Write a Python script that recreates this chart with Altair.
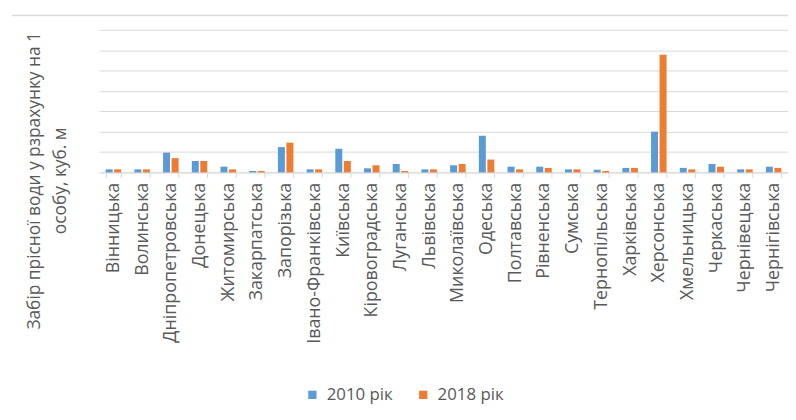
import altair as alt
import pandas as pd

regions = ["Вінницька", "Волинська", "Дніпропетровська", "Донецька", "Житомирська",
           "Закарпатська", "Запорізька", "Івано-Франківська", "Київська", "Кіровоградська",
           "Луганська", "Львівська", "Миколаївська", "Одеська", "Полтавська", "Рівненська",
           "Сумська", "Тернопільська", "Харківська", "Херсонська", "Хмельницька",
           "Черкаська", "Чернівецька", "Чернігівська"]
v2010 = [15, 15, 97, 56, 28, 7, 124, 15, 116, 20, 41, 15, 35, 180, 28, 28, 15, 13, 22, 200, 22, 41, 15, 28]
v2018 = [15, 15, 70, 56, 15, 7, 146, 15, 56, 35, 7, 15, 41, 63, 15, 22, 15, 7, 22, 578, 15, 28, 15, 22]
series = ["2010 рік", "2018 рік"]
y_ticks = [0, 100, 200, 300, 400, 500, 600, 700]

rows = []
for r, a, b in zip(regions, v2010, v2018):
    rows.append({"region": r, "year": series[0], "value": a})
    rows.append({"region": r, "year": series[1], "value": b})
df = pd.DataFrame(rows)

FONT = "Open Sans"
GREY = "#595959"

bars = alt.Chart(df).mark_bar().encode(
    x=alt.X("region:N", sort=regions,
            scale=alt.Scale(paddingInner=0.46, paddingOuter=0.23),
            axis=alt.Axis(title=None, labelAngle=-90, labelAlign="right", labelBaseline="middle",
                          labelFont=FONT, labelFontSize=18, labelColor=GREY, labelPadding=5,
                          tickBand="extent", tickSize=5, tickColor="#d9d9d9",
                          domainColor="#d9d9d9", grid=False, labelLimit=300)),
    xOffset=alt.XOffset("year:N", sort=series, scale=alt.Scale(paddingInner=0.18)),
    y=alt.Y("value:Q", scale=alt.Scale(domain=[0, 700], nice=False),
            axis=alt.Axis(title=["Забір прісної води у рзрахунку на 1", "особу, куб. м"],
                          values=y_ticks, labels=False, ticks=False, domain=False,
                          gridColor="#d9d9d9", gridWidth=1,
                          titleFont=FONT, titleFontSize=17.5, titleFontWeight="normal",
                          titleColor=GREY, titleLineHeight=26, titleAngle=-90,
                          titleX=-65, titleY=152, titleAlign="center", titleBaseline="middle")),
    color=alt.Color("year:N", sort=series,
                    scale=alt.Scale(domain=series, range=["#5B9BD5", "#ED7D31"]),
                    legend=alt.Legend(title=None, orient="none", direction="horizontal",
                                      legendX=207, legendY=360, symbolType="square",
                                      symbolSize=70, symbolStrokeWidth=0,
                                      labelFont=FONT, labelFontSize=17, labelColor=GREY,
                                      columnPadding=22, labelOffset=6)),
)

top_line = alt.Chart(alt.Data(values=[{}])).mark_rule(color="#d9d9d9", strokeWidth=1.5).encode(
    x=alt.value(-88), x2=alt.value(696), y=alt.value(-14.5)
)

chart = alt.layer(bars, top_line).properties(
    width=696, height=144,
    autosize=alt.AutoSizeParams(type="none"),
    padding={"left": 92, "top": 20, "right": 0, "bottom": 240},
).configure_view(stroke=None)

chart.save("out.html", embed_options={"renderer": "svg", "actions": False})
